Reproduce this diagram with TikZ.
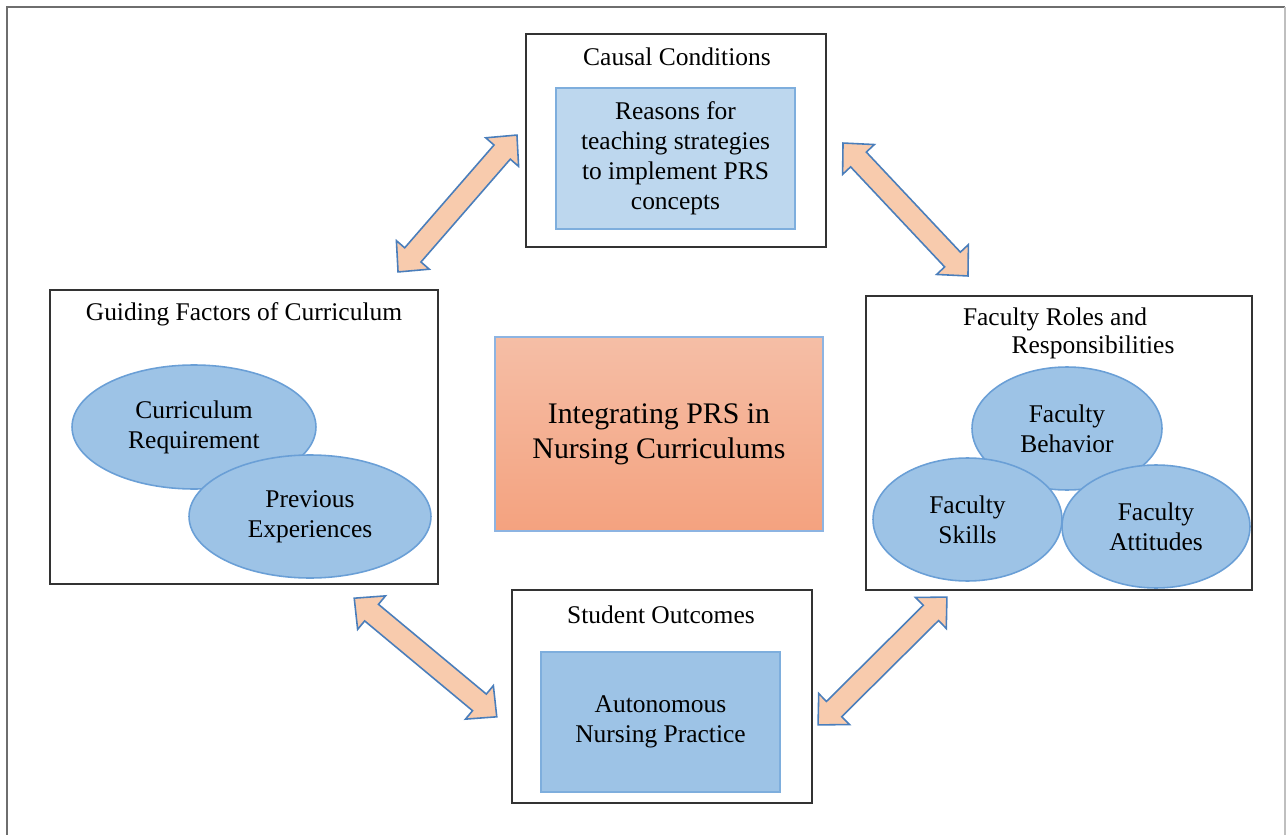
\documentclass[tikz,border=0pt]{standalone}
\usepackage{fontspec}
\setmainfont{Liberation Serif}
\usepackage{xcolor}
\usepackage{tikz}
\usetikzlibrary{calc, shapes.geometric, shapes.arrows}

\definecolor{frameGray}{HTML}{333333}
\definecolor{pageGray}{HTML}{6E6E6E}
\definecolor{reasonFill}{HTML}{BDD7EE}
\definecolor{reasonLine}{HTML}{7EAEDD}
\definecolor{practiceFill}{HTML}{9DC3E6}
\definecolor{bubbleFill}{HTML}{9DC3E6}
\definecolor{bubbleLine}{HTML}{6A9FD6}
\definecolor{coreTop}{HTML}{F5BEA6}
\definecolor{coreBottom}{HTML}{F4A27F}
\definecolor{coreLine}{HTML}{8DB4E2}
\definecolor{linkFill}{HTML}{F8CBAD}
\definecolor{linkLine}{HTML}{4A7EBB}

% double arrow between two named points
\newcommand{\linkboxes}[2]{%
  \path let \p1=($(#2)-(#1)$), \n1={atan2(\y1,\x1)}, \n2={veclen(\x1,\y1)} in
    node[link, rotate=\n1, minimum height=\n2] at ($(#1)!0.5!(#2)$) {};}

\begin{document}
\begin{tikzpicture}[x=0.02cm, y=-0.02cm, thick,
    frame/.style={draw=frameGray, line width=1.1pt, rectangle, inner sep=0pt},
    title/.style={anchor=base, inner sep=0pt, font=\fontsize{14.5}{17}\selectfont},
    panel/.style={rectangle, line width=0.9pt, inner sep=0pt, align=center, font=\fontsize{14.5}{17}\selectfont},
    bubble/.style={ellipse, draw=bubbleLine, fill=bubbleFill, line width=0.9pt, inner sep=0pt,
        minimum height=2.46cm, align=center, font=\fontsize{14.5}{17}\selectfont},
    link/.style={double arrow, draw=linkLine, fill=linkFill, line width=0.9pt, inner xsep=0pt, inner ysep=0.2cm,
        minimum width=0.84cm, double arrow head extend=0.22cm, double arrow tip angle=88}]
    \useasboundingbox (0,0) rectangle (1286,835);
    \draw[pageGray, line width=1.4pt] (7,835) -- (7,7) -- (1285,7);
    \draw[black!25, line width=0.8pt] (1285,7) -- (1285,835);

    % Components
    \node[frame, minimum width=6cm, minimum height=4.26cm] (causal) at (676,140.5) {};
    \node[title] (causalTitle) at (677,65) {Causal Conditions};
    \node[panel, draw=reasonLine, fill=reasonFill, minimum width=4.78cm, minimum height=2.82cm] (reasons) at (675.5,158.5)
        {Reasons for\\teaching strategies\\to implement PRS\\concepts};

    \node[frame, minimum width=7.76cm, minimum height=5.88cm] (guide) at (244,437) {};
    \node[title] (guideTitle) at (244,320) {Guiding Factors of Curriculum};
    \node[bubble, minimum width=4.88cm, minimum height=2.48cm] (curReq) at (194,427) {Curriculum\\Requirement};
    \node[bubble, minimum width=4.84cm] (prevExp) at (310,516.5) {Previous\\Experiences};

    \node[panel, draw=coreLine, top color=coreTop, bottom color=coreBottom, minimum width=6.56cm, minimum height=3.88cm,
        font=\fontsize{17}{20}\selectfont] (core) at (659,434) {Integrating PRS in\\Nursing Curriculums};

    \node[frame, minimum width=7.72cm, minimum height=5.88cm] (faculty) at (1059,443) {};
    \node[title] (facultyTitle) at (1055,325) {Faculty Roles and};
    \node[title] (facultyTitleB) at (1093,353) {Responsibilities};
    \node[bubble, minimum width=3.8cm] (facBehavior) at (1067,428.5) {Faculty\\Behavior};
    \node[bubble, minimum width=3.78cm] (facSkills) at (967.5,519.5) {Faculty\\Skills};
    \node[bubble, minimum width=3.76cm] (facAttitudes) at (1156,526.5) {Faculty\\Attitudes};

    \node[frame, minimum width=6cm, minimum height=4.26cm] (outcomes) at (662,696.5) {};
    \node[title] (outcomesTitle) at (661,623) {Student Outcomes};
    \node[panel, draw=reasonLine, fill=practiceFill, minimum width=4.78cm, minimum height=2.8cm] (practice) at (660.5,722)
        {Autonomous\\Nursing Practice};

    % Connections
    \coordinate (guideUp) at (398,272);
    \coordinate (causalLeft) at (517,135);
    \coordinate (causalRight) at (843,143);
    \coordinate (facultyUp) at (968,276);
    \coordinate (guideDown) at (354,598);
    \coordinate (outcomesLeft) at (497,717);
    \coordinate (outcomesRight) at (818,725);
    \coordinate (facultyDown) at (947,597);
    \linkboxes{guideUp}{causalLeft}
    \linkboxes{causalRight}{facultyUp}
    \linkboxes{guideDown}{outcomesLeft}
    \linkboxes{outcomesRight}{facultyDown}
\end{tikzpicture}
\end{document}
